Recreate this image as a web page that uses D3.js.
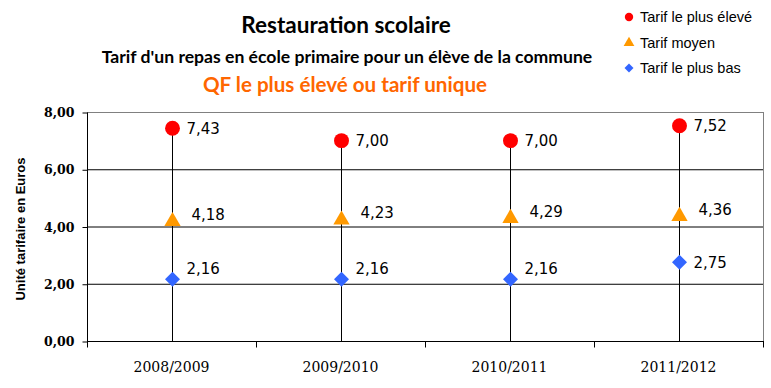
<!DOCTYPE html>
<html><head><meta charset="utf-8">
<script src="https://cdn.jsdelivr.net/npm/d3@7/dist/d3.min.js"></script>
<style>html,body{margin:0;padding:0;background:#fff;}svg{display:block;}</style>
</head><body>
<svg id="chart" width="771" height="388"></svg>
<script>
const categories = ["2008/2009", "2009/2010", "2010/2011", "2011/2012"];
const tarifHaut = [7.43, 7.00, 7.00, 7.52];
const tarifMoyen = [4.18, 4.23, 4.29, 4.36];
const tarifBas = [2.16, 2.16, 2.16, 2.75];
const yTicks = [0, 2, 4, 6, 8];
const seriesNames = ["Tarif le plus élevé", "Tarif moyen", "Tarif le plus bas"];
const titleText = "Restauration scolaire";
const subtitleText = "Tarif d'un repas en école primaire pour un élève de la commune";
const subtitle2Text = "QF le plus élevé ou tarif unique";
const yAxisTitle = "Unité tarifaire en Euros";

// label offsets (style only)
const labelDy = {haut: [0, 0, 0, 0], moyen: [-7, -7, -7, -7], bas: [-11, -11, -11, 0]};

const svg = d3.select("#chart");
const m = {left: 87, right: 763, top: 112, bottom: 341};

const x = d3.scaleBand().domain(categories).range([m.left, m.right]);
const y = d3.scaleLinear().domain([0, 8]).range([m.bottom, m.top]);
const fmt = v => d3.format(".2f")(v).replace(".", ",");

const colors = {haut: "#FF0000", moyen: "#FF9900", bas: "#3366FF"};

// Titles
svg.append("text").attr("x", 346).attr("y", 33).attr("text-anchor", "middle")
  .style("font-family", "Lato, 'Open Sans', sans-serif").style("font-weight", "bold").style("font-size", "22.5px")
  .attr("fill", "#000").text(titleText);
svg.append("text").attr("x", 347).attr("y", 63).attr("text-anchor", "middle")
  .style("font-family", "Lato, 'Open Sans', sans-serif").style("font-weight", "bold").style("font-size", "17.6px")
  .attr("fill", "#000").text(subtitleText);
svg.append("text").attr("x", 345).attr("y", 92).attr("text-anchor", "middle")
  .style("font-family", "Lato, 'Open Sans', sans-serif").style("font-weight", "bold").style("font-size", "20.6px")
  .attr("fill", "#FF6600").text(subtitle2Text);

// Gridlines
const g = svg.append("g");
g.selectAll("line.grid").data(yTicks.filter(t => t > 0 && t < 8)).enter().append("line")
  .attr("x1", m.left).attr("x2", m.right).attr("y1", d => y(d) + 0.5).attr("y2", d => y(d) + 0.5)
  .attr("stroke", "#000").attr("stroke-width", 1);
g.append("line").attr("x1", m.left).attr("x2", m.right).attr("y1", y(8) + 0.5).attr("y2", y(8) + 0.5)
  .attr("stroke", "#808080");
g.append("line").attr("x1", m.right + 0.5).attr("x2", m.right + 0.5).attr("y1", y(8)).attr("y2", y(0))
  .attr("stroke", "#808080");

// Y axis
const yAxis = d3.axisLeft(y).tickValues(yTicks).tickSize(5).tickPadding(8).tickFormat(fmt);
const ya = svg.append("g").attr("transform", `translate(${m.left + 0.5},0.5)`).call(yAxis);
ya.select(".domain").attr("stroke", "#000").attr("d", `M0,${y(8)}V${y(0)}`);
ya.selectAll(".tick line").attr("stroke", "#000");
ya.selectAll(".tick text").style("font-family", "'DejaVu Serif', serif").style("font-weight", "bold")
  .style("font-size", "12.5px").attr("fill", "#000");

// X axis
const xAxis = d3.axisBottom(x).tickSize(0).tickPadding(21);
const xa = svg.append("g").attr("transform", `translate(0,${m.bottom + 0.5})`).call(xAxis);
xa.select(".domain").attr("stroke", "#000").attr("d", `M${m.left},0H${m.right + 1}`);
xa.selectAll(".tick text").style("font-family", "'DejaVu Serif', serif").style("font-size", "14px").attr("fill", "#000");
const bounds = categories.map(c => x(c)).concat([x(categories[categories.length - 1]) + x.bandwidth()]);
xa.selectAll("line.bt").data(bounds).enter().append("line")
  .attr("x1", d => Math.round(d) + 0.5).attr("x2", d => Math.round(d) + 0.5)
  .attr("y1", 0).attr("y2", 6).attr("stroke", "#000");

// Drop lines
const cx = c => Math.round(x(c) + x.bandwidth() / 2) + 0.5;
svg.append("g").selectAll("line").data(categories).enter().append("line")
  .attr("x1", c => cx(c)).attr("x2", c => cx(c))
  .attr("y1", (c, i) => y(tarifHaut[i])).attr("y2", y(0))
  .attr("stroke", "#000").attr("stroke-width", 1);

// Y axis title
svg.append("text").attr("transform", `translate(25,229) rotate(-90)`).attr("text-anchor", "middle")
  .style("font-family", "'Liberation Sans', Arial, sans-serif").style("font-weight", "bold").style("font-size", "13px")
  .attr("fill", "#000").text(yAxisTitle);

// Markers
const symCircle = d3.symbol().type(d3.symbolCircle).size(175);
const symTri = d3.symbol().type(d3.symbolTriangle).size(115);
const diamondPath = s => `M0,${-s}L${s},0L0,${s}L${-s},0Z`;

const mk = svg.append("g");
mk.selectAll("path.h").data(tarifHaut).enter().append("path")
  .attr("d", symCircle).attr("fill", colors.haut)
  .attr("transform", (d, i) => `translate(${cx(categories[i])},${y(d)})`);
mk.selectAll("path.m").data(tarifMoyen).enter().append("path")
  .attr("d", symTri).attr("fill", colors.moyen)
  .attr("transform", (d, i) => `translate(${cx(categories[i])},${y(d)})`);
mk.selectAll("path.b").data(tarifBas).enter().append("path")
  .attr("d", diamondPath(7.5)).attr("fill", colors.bas)
  .attr("transform", (d, i) => `translate(${cx(categories[i])},${y(d)})`);

// Data labels
const lab = svg.append("g").style("font-family", "'DejaVu Sans', Verdana, sans-serif").style("font-size", "15px").attr("fill", "#000");
function labels(arr, key, dx) {
  lab.selectAll(null).data(arr).enter().append("text")
    .attr("x", (d, i) => cx(categories[i]) + dx)
    .attr("y", (d, i) => y(d) + labelDy[key][i])
    .attr("dy", "0.36em")
    .text(fmt);
}
labels(tarifHaut, "haut", 14);
labels(tarifMoyen, "moyen", 19);
labels(tarifBas, "bas", 14);

// Legend
const leg = svg.append("g");
const legY = [17, 43, 68];
const legShapes = [d3.symbol().type(d3.symbolCircle).size(55)(), d3.symbol().type(d3.symbolTriangle).size(50)(), diamondPath(4.5)];
const legColors = [colors.haut, colors.moyen, colors.bas];
seriesNames.forEach((n, i) => {
  leg.append("path").attr("d", legShapes[i]).attr("fill", legColors[i]).attr("transform", `translate(629,${legY[i]})`);
  leg.append("text").attr("x", 640).attr("y", legY[i]).attr("dy", "0.35em")
    .style("font-family", "'Liberation Sans', Arial, sans-serif").style("font-size", "14.5px").attr("fill", "#000").text(n);
});
</script>
</body></html>
